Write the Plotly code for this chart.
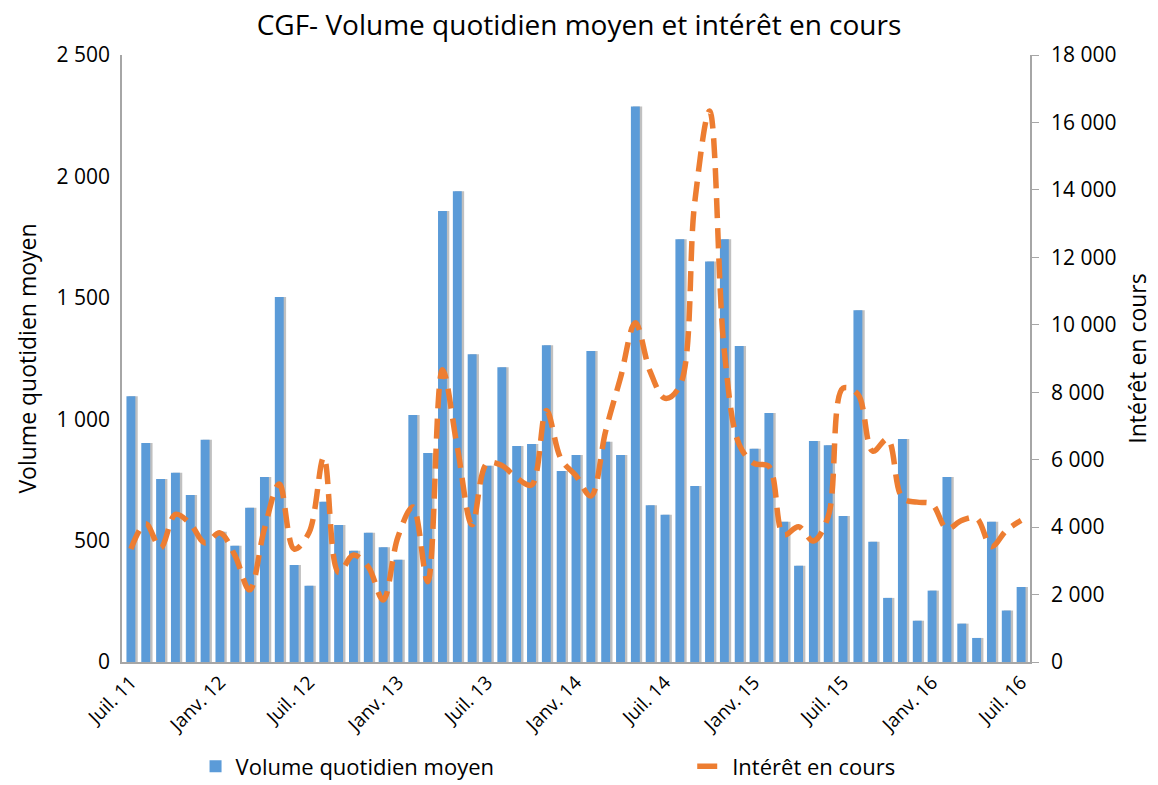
import plotly.graph_objects as go

# Months (Juil. 2011 -> Juil. 2016), French abbreviations
month_abbr = ["Janv.", "Févr.", "Mars", "Avr.", "Mai", "Juin",
              "Juil.", "Août", "Sept.", "Oct.", "Nov.", "Déc."]
categories = []
for yy in range(11, 17):
    for m in range(12):
        if (yy == 11 and m < 6) or (yy == 16 and m > 6):
            continue
        categories.append(f"{month_abbr[m]} {yy}")

volume = [1095, 902, 754, 779, 688, 915, 536, 479, 635, 762,
          1503, 400, 314, 660, 564, 458, 532, 473, 421, 1017,
          861, 1857, 1939, 1268, 808, 1214, 890, 898, 1305, 787,
          853, 1281, 907, 853, 2288, 646, 606, 1741, 725, 1650,
          1741, 1301, 878, 1026, 578, 396, 910, 893, 601, 1449,
          495, 264, 918, 170, 294, 762, 158, 99, 578, 212, 309]

interet = [3350, 4100, 3380, 4380, 4100, 3530, 3830, 3170, 2140, 3950,
           5280, 3350, 3830, 6070, 2650, 3170, 2820, 1840, 3710, 4600,
           2380, 8670, 6370, 4070, 5890, 5830, 5460, 5250, 7460, 6010,
           5520, 4920, 6850, 8430, 10060, 8610, 7820, 8190, 13620, 16340,
           9200, 6450, 5890, 5800, 3770, 4010, 3590, 4320, 8120, 7940,
           6250, 6610, 4860, 4740, 4680, 3950, 4200, 4260, 3420, 3900, 4200]

tick_labels = ["Juil. 11", "Janv. 12", "Juil. 12", "Janv. 13", "Juil. 13",
               "Janv. 14", "Juil. 14", "Janv. 15", "Juil. 15", "Janv. 16", "Juil. 16"]

FONT = "'Open Sans', sans-serif"

fig = go.Figure()

# soft shadow behind the bars
fig.add_trace(go.Bar(
    x=categories, y=volume, width=0.62, offset=-0.16,
    marker=dict(color="rgba(150,150,150,0.6)", line=dict(width=0)),
    showlegend=False, hoverinfo="skip"))

fig.add_trace(go.Bar(
    x=categories, y=volume, width=0.6, offset=-0.3,
    name="Volume quotidien moyen", legend="legend",
    marker=dict(color="#5b9bd8", line=dict(width=0))))

fig.add_trace(go.Scatter(
    x=categories, y=interet, yaxis="y2", mode="lines",
    name="Intérêt en cours", legend="legend2",
    line=dict(color="#ed7d31", width=5.5, dash="20px,10px", shape="spline", smoothing=1.0)))

fig.update_layout(
    width=1158, height=785,
    paper_bgcolor="white", plot_bgcolor="white",
    font=dict(family=FONT, size=21, color="#000000"),
    separators=", ",
    barmode="overlay",
    margin=dict(l=122, r=128, t=55, b=123, autoexpand=False),
    title=dict(text="CGF- Volume quotidien moyen et intérêt en cours",
               x=0.5, xanchor="center", y=0.968, yanchor="middle",
               font=dict(size=28, family=FONT)),
    xaxis=dict(
        type="category", categoryorder="array", categoryarray=categories,
        tickmode="array", tickvals=[c for c in categories if c in tick_labels],
        ticktext=tick_labels, tickangle=-45, automargin=False,
        showgrid=False, showline=True, linecolor="#a6a6a6", linewidth=1.5,
        ticks="", range=[-0.6, 60.6], tickfont=dict(size=19)),
    yaxis=dict(
        range=[0, 2500], dtick=500, tickformat=",d", automargin=False,
        showgrid=False, showline=True, linecolor="#a6a6a6", linewidth=1.5,
        ticks="", zeroline=False, ticklabelstandoff=6,
        title=dict(text="Volume quotidien moyen", font=dict(size=23), standoff=14)),
    yaxis2=dict(
        range=[0, 18000], dtick=2000, tickformat=",d", automargin=False,
        overlaying="y", side="right",
        showgrid=False, showline=True, linecolor="#a6a6a6", linewidth=1.5,
        ticks="outside", ticklen=7, tickcolor="#a6a6a6", zeroline=False,
        ticklabelstandoff=8,
        title=dict(text="Intérêt en cours", font=dict(size=23), standoff=14)),
    legend=dict(orientation="h", x=0.081, xanchor="left", y=-0.172, yanchor="middle",
                font=dict(size=22)),
    legend2=dict(orientation="h", x=0.628, xanchor="left", y=-0.172, yanchor="middle",
                 font=dict(size=22)),
)

fig.write_html("out.html", config={"displayModeBar": False},
               post_script="document.body.style.margin='0';document.body.style.padding='0';")
